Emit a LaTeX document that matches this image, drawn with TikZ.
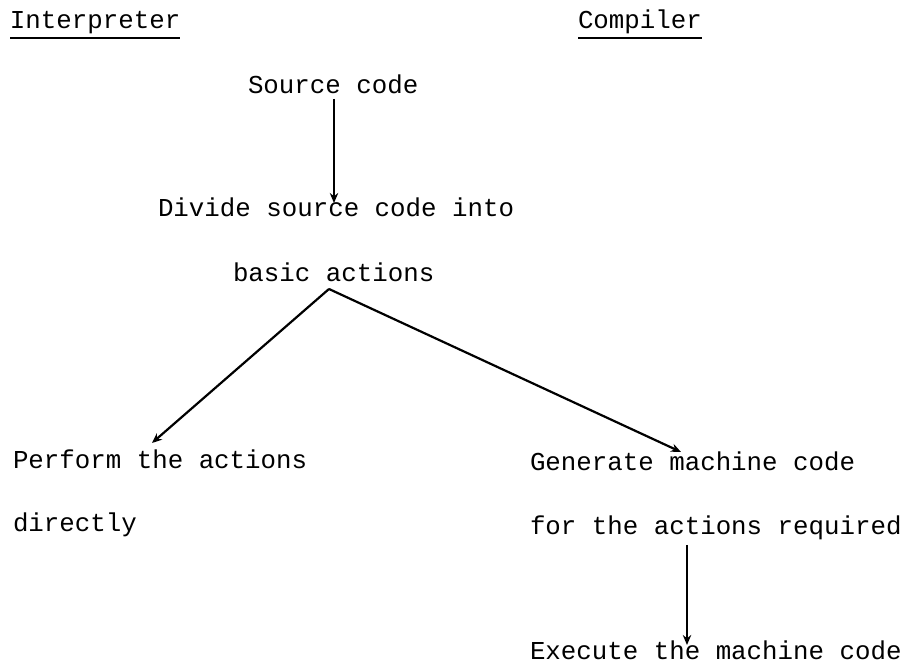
\documentclass[tikz,border=0pt]{standalone}
\usepackage{fontspec}
\setmainfont{Liberation Mono}
\usetikzlibrary{arrows.meta}
\begin{document}
\begin{tikzpicture}[x=0.5pt,y=-0.5pt,
  lbl/.style={anchor=base west,inner sep=0pt,outer sep=0pt,font=\fontsize{12.9}{15}\selectfont},
  conn/.style={line width=1.1pt,-{Stealth[length=5pt,width=4.2pt]}},
  uline/.style={line width=1.4pt}]
\useasboundingbox[fill=white] (0,0) rectangle (906,667);
\node[lbl] (interp) at (10,29) {Interpreter};
\node[lbl] (comp) at (578,29) {Compiler};
\draw[uline] ([yshift=-4.5pt]interp.base west) -- ([yshift=-4.5pt]interp.base east);
\draw[uline] ([yshift=-4.5pt]comp.base west) -- ([yshift=-4.5pt]comp.base east);
\node[lbl] (src) at (248,94) {Source code};
\node[lbl] (div) at (158,217) {Divide source code into};
\node[lbl] (basic) at (233,282) {basic actions};
\node[lbl] (perf) at (13,469) {Perform the actions};
\node[lbl] (direct) at (13,532) {directly};
\node[lbl] (gen) at (530,471) {Generate machine code};
\node[lbl] (forthe) at (530,535) {for the actions required};
\node[lbl] (exec) at (530,660) {Execute the machine code};
\coordinate (srcbot) at (334,99);
\coordinate (divtop) at (334,203);
\coordinate (apex) at (329,289);
\coordinate (ptip) at (152,443);
\coordinate (gtip) at (681,452);
\coordinate (fbot) at (687,545);
\coordinate (etip) at (687,645);
\draw[conn] (srcbot) -- (divtop);
\draw[conn] (apex) -- (ptip);
\draw[conn] (apex) -- (gtip);
\draw[conn] (fbot) -- (etip);
\end{tikzpicture}
\end{document}
